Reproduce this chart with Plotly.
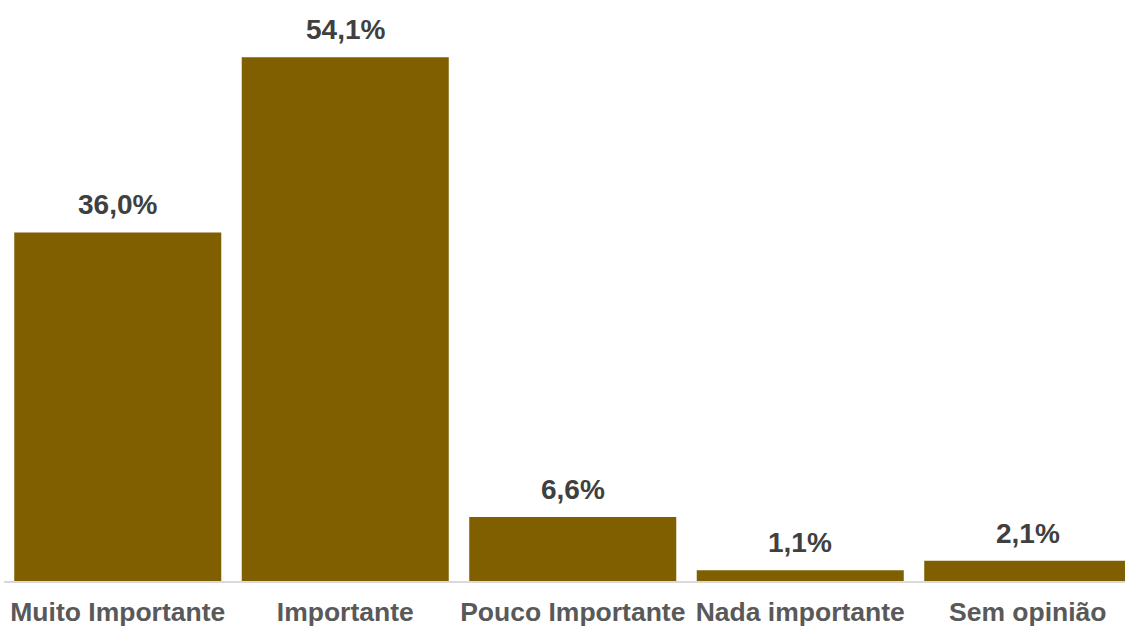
import plotly.graph_objects as go

categories = ["Muito Importante", "Importante", "Pouco Importante", "Nada importante", "Sem opinião"]
values = [36.0, 54.1, 6.6, 1.1, 2.1]
labels = ["36,0%", "54,1%", "6,6%", "1,1%", "2,1%"]

FONT = "Liberation Sans, Arial, sans-serif"

fig = go.Figure()
fig.add_trace(go.Bar(
    x=categories, y=values,
    marker=dict(color="#7F5F00", line=dict(width=0)),
    hoverinfo="skip",
))

for c, v, t in zip(categories, values, labels):
    fig.add_annotation(
        x=c, y=v, text=t, showarrow=False, yanchor="bottom", yshift=10,
        font=dict(family=FONT, size=28, color="#404040", weight="bold"),
    )

fig.update_layout(
    width=1125, height=627,
    margin=dict(l=4, r=0, t=0, b=44),
    paper_bgcolor="white", plot_bgcolor="white",
    bargap=0.09,
    showlegend=False,
    xaxis=dict(
        range=[-0.5, -0.5 + 1121 / 227.5],
        showline=True, linecolor="#D9D9D9", linewidth=2,
        showgrid=False, ticks="", zeroline=False,
        ticklabelstandoff=6,
        tickfont=dict(family=FONT, size=26.5, color="#595959", weight="bold"),
    ),
    yaxis=dict(range=[0, 60.0], visible=False, showgrid=False, zeroline=False),
)

fig.write_html(
    "out.html",
    config={"displayModeBar": False, "staticPlot": True},
    post_script="document.body.style.margin='0';document.body.style.overflow='hidden';",
)
